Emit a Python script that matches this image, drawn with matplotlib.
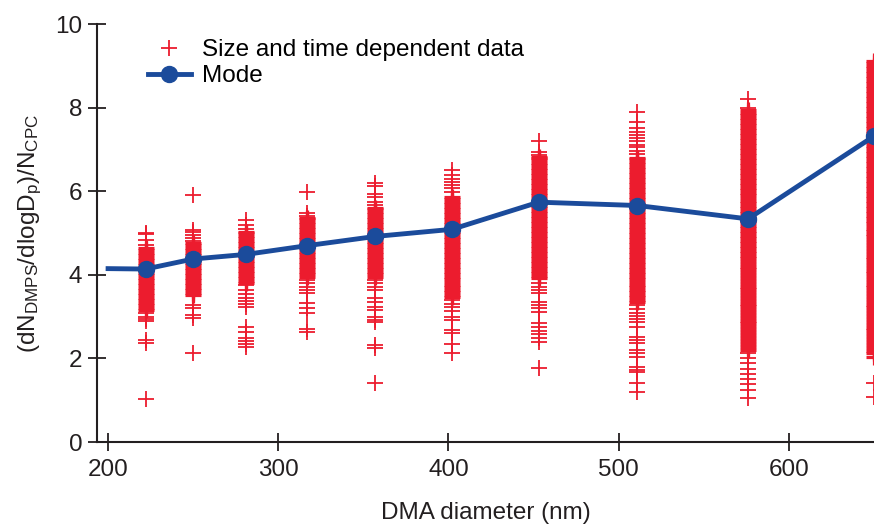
import matplotlib
matplotlib.use("Agg")
import matplotlib.pyplot as plt

plt.rcParams['font.family'] = ['Liberation Sans', 'DejaVu Sans']
plt.rcParams['mathtext.fontset'] = 'custom'
plt.rcParams['mathtext.rm'] = 'Liberation Sans'
plt.rcParams['mathtext.it'] = 'Liberation Sans'

RED = '#ec1c2e'
BLUE = '#1b4b9b'
INK = '#231f20'

# DMA size bins (nm)
diam = [222, 250, 281, 317, 357, 402, 453, 511, 576, 650]

# size and time dependent ratios: sparse values per bin
sparse = [
    [5.0, 4.97, 4.83, 4.72, 3.08, 3.0, 2.94, 2.9, 2.44, 2.36, 1.02],
    [5.91, 5.07, 5.02, 4.95, 4.88, 4.82, 3.27, 3.2, 3.04, 2.96, 2.13],
    [5.31, 5.19, 5.1, 3.75, 3.65, 3.55, 3.45, 3.38, 3.3, 3.22, 2.75, 2.63, 2.5,
     2.42, 2.35, 2.27],
    [5.99, 5.47, 5.42, 3.87, 3.8, 3.72, 3.64, 3.56, 3.32, 3.21, 3.08, 2.7, 2.64],
    [6.19, 6.12, 5.93, 5.87, 5.75, 5.68, 3.87, 3.8, 3.72, 3.63, 3.44, 3.35, 3.23,
     3.15, 2.99, 2.93, 2.87, 2.32, 2.24, 1.41],
    [6.51, 6.38, 6.3, 6.22, 6.15, 6.08, 5.99, 3.39, 3.3, 3.22, 3.14, 3.0, 2.91,
     2.67, 2.6, 2.34, 2.13],
    [7.21, 6.95, 6.88, 3.8, 3.72, 3.65, 3.56, 3.35, 3.28, 3.2, 3.11, 2.84, 2.75,
     2.66, 2.58, 2.5, 2.4, 1.77],
    [7.9, 7.66, 7.51, 7.42, 7.35, 7.28, 7.2, 7.12, 7.05, 6.97, 6.9, 3.27, 3.18,
     3.1, 3.02, 2.95, 2.87, 2.75, 2.51, 2.45, 2.36, 2.2, 2.12, 2.04, 1.8, 1.72,
     1.68, 1.41, 1.2],
    [8.22, 7.99, 2.12, 2.0, 1.88, 1.75, 1.62, 1.5, 1.38, 1.24, 1.05],
    [1.41, 1.08],
]

# dense values per bin (the solid part of each column)
dense = [
    [3.15, 3.21, 3.27, 3.33, 3.39, 3.45, 3.51, 3.57, 3.63, 3.69, 3.75, 3.81, 3.87,
     3.93, 3.99, 4.05, 4.11, 4.17, 4.23, 4.29, 4.35, 4.41, 4.47, 4.53, 4.59, 4.64],
    [3.51, 3.57, 3.63, 3.69, 3.75, 3.81, 3.87, 3.93, 3.99, 4.05, 4.11, 4.17, 4.23,
     4.29, 4.35, 4.41, 4.47, 4.53, 4.59, 4.65, 4.71, 4.77],
    [3.80, 3.86, 3.92, 3.98, 4.04, 4.10, 4.16, 4.22, 4.28, 4.34, 4.40, 4.46, 4.52,
     4.58, 4.64, 4.70, 4.76, 4.82, 4.88, 4.94, 5.00, 5.03],
    [3.95, 4.01, 4.07, 4.13, 4.19, 4.25, 4.31, 4.37, 4.43, 4.49, 4.55, 4.61, 4.67,
     4.73, 4.79, 4.85, 4.91, 4.97, 5.03, 5.09, 5.15, 5.21, 5.27, 5.33, 5.36],
    [3.95, 4.01, 4.07, 4.13, 4.19, 4.25, 4.31, 4.37, 4.43, 4.49, 4.55, 4.61, 4.67,
     4.73, 4.79, 4.85, 4.91, 4.97, 5.03, 5.09, 5.15, 5.21, 5.27, 5.33, 5.39, 5.45,
     5.51, 5.57, 5.60],
    [3.47, 3.53, 3.59, 3.65, 3.71, 3.77, 3.83, 3.89, 3.95, 4.01, 4.07, 4.13, 4.19,
     4.25, 4.31, 4.37, 4.43, 4.49, 4.55, 4.61, 4.67, 4.73, 4.79, 4.85, 4.91, 4.97,
     5.03, 5.09, 5.15, 5.21, 5.27, 5.33, 5.39, 5.45, 5.51, 5.57, 5.63, 5.69, 5.75,
     5.81, 5.87],
    [3.92, 3.98, 4.04, 4.10, 4.16, 4.22, 4.28, 4.34, 4.40, 4.46, 4.52, 4.58, 4.64,
     4.70, 4.76, 4.82, 4.88, 4.94, 5.00, 5.06, 5.12, 5.18, 5.24, 5.30, 5.36, 5.42,
     5.48, 5.54, 5.60, 5.66, 5.72, 5.78, 5.84, 5.90, 5.96, 6.02, 6.08, 6.14, 6.20,
     6.26, 6.32, 6.38, 6.44, 6.50, 6.56, 6.62, 6.68, 6.74, 6.80, 6.83],
    [3.35, 3.41, 3.47, 3.53, 3.59, 3.65, 3.71, 3.77, 3.83, 3.89, 3.95, 4.01, 4.07,
     4.13, 4.19, 4.25, 4.31, 4.37, 4.43, 4.49, 4.55, 4.61, 4.67, 4.73, 4.79, 4.85,
     4.91, 4.97, 5.03, 5.09, 5.15, 5.21, 5.27, 5.33, 5.39, 5.45, 5.51, 5.57, 5.63,
     5.69, 5.75, 5.81, 5.87, 5.93, 5.99, 6.05, 6.11, 6.17, 6.23, 6.29, 6.35, 6.41,
     6.47, 6.53, 6.59, 6.65, 6.71, 6.77, 6.80],
    [2.20, 2.28, 2.35, 2.41, 2.50, 2.57, 2.63, 2.70, 2.78, 2.84, 2.90, 2.97, 3.05,
     3.11, 3.18, 3.25, 3.31, 3.38, 3.45, 3.52, 3.58, 3.66, 3.72, 3.79, 3.86, 3.93,
     4.00, 4.06, 4.13, 4.20, 4.27, 4.33, 4.40, 4.46,
     4.52, 4.58, 4.64, 4.70, 4.76, 4.82, 4.88, 4.94, 5.00, 5.06, 5.12, 5.18, 5.24,
     5.30, 5.36, 5.42, 5.48, 5.54, 5.60, 5.66, 5.72, 5.78, 5.84, 5.90, 5.96, 6.02,
     6.08, 6.14, 6.20, 6.26, 6.32, 6.38, 6.44, 6.50, 6.56, 6.62, 6.68, 6.74, 6.80,
     6.86, 6.92, 6.98, 7.04, 7.10, 7.16, 7.22, 7.28, 7.34, 7.40, 7.46, 7.52, 7.58,
     7.64, 7.70, 7.76, 7.82, 7.88, 7.94],
    [2.04, 2.12, 2.18, 2.26, 2.33, 2.40, 2.47, 2.53, 2.60, 2.68, 2.74, 2.81, 2.88,
     2.95, 3.02, 3.08, 3.15, 3.22, 3.29, 3.36, 3.42, 3.49, 3.56, 3.63, 3.70, 3.76,
     3.83, 3.90, 3.97, 4.04, 4.10, 4.17, 4.24, 4.31, 4.38, 4.44, 4.51, 4.58, 4.65,
     4.72, 4.78, 4.85, 4.92, 4.99,
     5.05, 5.11, 5.17, 5.23, 5.29, 5.35, 5.41, 5.47, 5.53, 5.59, 5.65, 5.71, 5.77,
     5.83, 5.89, 5.95, 6.01, 6.07, 6.13, 6.19, 6.25, 6.31, 6.37, 6.43, 6.49, 6.55,
     6.61, 6.67, 6.73, 6.79, 6.85, 6.91, 6.97, 7.03, 7.09, 7.15, 7.21, 7.27, 7.33,
     7.39, 7.45, 7.51, 7.57, 7.63, 7.69, 7.75, 7.81, 7.87, 7.93, 7.99, 8.05, 8.11,
     8.17, 8.23, 8.29, 8.35, 8.41, 8.47, 8.53, 8.59, 8.65, 8.71, 8.77, 8.83, 8.89,
     8.95, 9.01, 9.07, 9.12],
]

# mode of each bin, line starts at 200 nm
mode_x = [200, 222, 250, 281, 317, 357, 402, 453, 511, 576, 650]
mode_y = [4.15, 4.14, 4.38, 4.49, 4.70, 4.92, 5.09, 5.74, 5.66, 5.34, 7.32]

fig = plt.figure(figsize=(8.74, 5.25), dpi=100)
ax = fig.add_axes([0.111, 0.158, 0.889, 0.796])

sx, sy, dx, dy = [], [], [], []
for d, sv, dv in zip(diam, sparse, dense):
    sx += [d] * len(sv)
    sy += sv
    dx += [d] * len(dv)
    dy += dv
ax.plot(dx, dy, linestyle='none', marker='+', ms=12, mew=2.3, color=RED, zorder=2)
ax.plot(sx, sy, linestyle='none', marker='+', ms=12, mew=1.3, color=RED,
        label='Size and time dependent data', zorder=2)
ax.plot(mode_x, mode_y, color=BLUE, lw=3.5, marker='o', ms=11.5,
        markevery=list(range(1, len(mode_x))), label='Mode', zorder=3)

ax.set_xlim(193.5, 650)
ax.set_ylim(0, 10)
ax.set_xticks([200, 300, 400, 500, 600])
ax.set_yticks([0, 2, 4, 6, 8, 10])
for s in ['top', 'right']:
    ax.spines[s].set_visible(False)
for s in ['left', 'bottom']:
    ax.spines[s].set_linewidth(1.5)
    ax.spines[s].set_color(INK)
ax.tick_params(direction='inout', length=13, width=1.3, color=INK,
               labelsize=17.5, labelcolor=INK)
ax.tick_params(axis='x', pad=6)
ax.tick_params(axis='y', pad=4)

ax.set_xlabel('DMA diameter (nm)', fontsize=17.5, color=INK, labelpad=15)
ax.set_ylabel(r'(dN$_{\mathrm{DMPS}}$/dlogD$_{\mathrm{p}}$)/N$_{\mathrm{CPC}}$',
              fontsize=17.5, color=INK, labelpad=8)

ax.legend(loc='upper left', bbox_to_anchor=(0.169, 0.925),
          bbox_transform=fig.transFigure, frameon=False, fontsize=17.5,
          handlelength=1.77, handletextpad=0.45, labelspacing=0.15,
          borderaxespad=0, borderpad=0)

fig.savefig('out.png', dpi=100)
